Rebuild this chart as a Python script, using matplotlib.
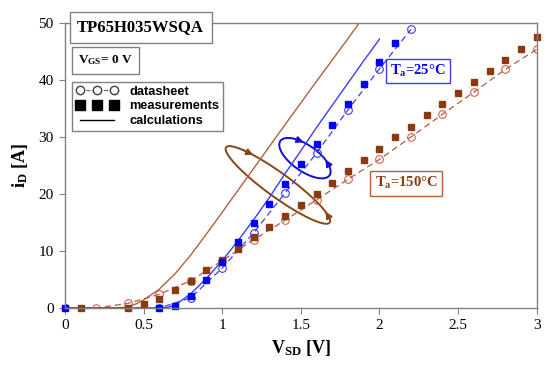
import numpy as np
import matplotlib
matplotlib.use('Agg')
import matplotlib.pyplot as plt
import matplotlib.transforms as mtransforms
from matplotlib.patches import Ellipse
from matplotlib.lines import Line2D

plt.rcParams['font.family'] = 'Liberation Serif'
plt.rcParams['mathtext.fontset'] = 'custom'
plt.rcParams['mathtext.rm'] = 'Liberation Serif'
plt.rcParams['mathtext.bf'] = 'Liberation Serif:bold'
plt.rcParams['mathtext.it'] = 'Liberation Serif:italic'

# Ta = 25 C
meas25_v = [0, 0.6, 0.7, 0.8, 0.9, 1.0, 1.1, 1.2, 1.3, 1.4, 1.5, 1.6, 1.7, 1.8, 1.9, 2.0, 2.1]
meas25_i = [0, 0, 0.3, 2.1, 5.0, 8.1, 11.6, 14.9, 18.2, 21.7, 25.3, 28.7, 32.2, 35.8, 39.3, 43.1, 46.6]
ds25_v = [0, 0.6, 0.8, 1.0, 1.2, 1.4, 1.6, 1.8, 2.0, 2.2]
ds25_i = [0, 0, 1.8, 7.0, 13.2, 20.2, 27.2, 34.8, 42.0, 48.9]
calc25_v = [0, 0.6, 0.65, 0.7, 0.8, 0.9, 1.0, 1.1, 1.2, 1.3, 1.4, 1.5, 1.6, 1.7, 1.8, 1.9, 2.0]
calc25_i = [0, 0, 0.1, 0.5, 2.5, 5.2, 8.3, 11.8, 15.5, 19.4, 23.6, 27.6, 31.7, 35.6, 39.5, 43.4, 47.2]

# Ta = 150 C
meas150_v = [0.1, 0.4, 0.5, 0.6, 0.7, 0.8, 0.9, 1.0, 1.1, 1.2, 1.3, 1.4, 1.5, 1.6, 1.7, 1.8,
             1.9, 2.0, 2.1, 2.2, 2.3, 2.4, 2.5, 2.6, 2.7, 2.8, 2.9, 3.0]
meas150_i = [0, 0, 0.7, 1.6, 3.2, 4.8, 6.7, 8.5, 10.4, 12.4, 14.2, 16.2, 18.0, 20.0, 21.9, 24.0,
             26.0, 27.9, 30.0, 31.8, 33.9, 35.8, 37.7, 39.6, 41.6, 43.5, 45.4, 47.5]
ds150_v = [0, 0.2, 0.4, 0.6, 0.8, 1.0, 1.2, 1.4, 1.6, 1.8, 2.0, 2.2, 2.4, 2.6, 2.8, 3.0]
ds150_i = [0, 0, 0.8, 2.4, 4.8, 8.3, 12.0, 15.4, 19.0, 22.6, 26.1, 30.0, 34.0, 37.9, 41.9, 45.4]
calc150_v = [0, 0.35, 0.4, 0.45, 0.5, 0.6, 0.7, 0.8, 0.9, 1.0, 1.2, 1.4, 1.6, 1.8, 1.87]
calc150_i = [0, 0, 0.2, 0.7, 1.4, 3.3, 6.0, 9.3, 13.0, 16.8, 24.5, 32.2, 39.8, 47.3, 50.0]

blue = '#0000ff'
blue_l = '#3b3bff'
brown = '#8b3a10'
brown_l = '#b0603c'
red_c = '#d06050'

fig = plt.figure(figsize=(5.5, 3.69), dpi=100)
ax = fig.add_axes([0.118, 0.1653, 0.858, 0.772])

# calculations
ax.plot(calc150_v, calc150_i, '-', color=brown_l, lw=1.0)
ax.plot(calc25_v, calc25_i, '-', color=blue_l, lw=1.0)
# datasheet
ax.plot(ds150_v, ds150_i, '--', color=brown_l, lw=0.9, dashes=(5, 3),
        marker='o', ms=5.5, mfc='none', mec=red_c, mew=0.8)
ax.plot(ds25_v, ds25_i, '--', color=blue_l, lw=0.9, dashes=(5, 3),
        marker='o', ms=5.5, mfc='none', mec=blue_l, mew=0.8)
# measurements
ax.plot(meas150_v, meas150_i, 's', color=brown, ms=4.5, clip_on=False)
ax.plot(meas25_v, meas25_i, 's', color=blue, ms=4.5, clip_on=False)

ax.set_xlim(0, 3)
ax.set_ylim(0, 50)
ax.set_xticks([0, 0.5, 1, 1.5, 2, 2.5, 3])
ax.set_xticklabels(['0', '0.5', '1', '1.5', '2', '2.5', '3'])
ax.set_yticks([0, 10, 20, 30, 40, 50])
ax.tick_params(direction='out', length=4, width=0.8, color='#808080', labelsize=11, pad=4)
for s in ax.spines.values():
    s.set_color('#808080')
    s.set_linewidth(1.0)

ax.set_xlabel(r'$\mathbf{V_{SD}}$ [V]', fontsize=13, fontweight='bold', labelpad=4)
ax.set_ylabel(r'$\mathbf{i_D}$ [A]', fontsize=13, fontweight='bold', labelpad=6)

# text boxes
ax.text(0.026, 0.986, 'TP65H035WSQA', transform=ax.transAxes, fontsize=12, fontweight='bold',
        va='center', ha='left',
        bbox=dict(boxstyle='square,pad=0.45', fc='white', ec='#808080', lw=1.0))
ax.text(0.028, 0.870, r'$\mathbf{V_{GS}}$= 0 V', transform=ax.transAxes, fontsize=9.5,
        fontweight='bold', va='center', ha='left',
        bbox=dict(boxstyle='square,pad=0.5', fc='white', ec='#808080', lw=1.0))
ax.text(2.244, 41.6, r'$\mathbf{T_a}$=25°C', fontsize=10.5, fontweight='bold', color=blue,
        va='center', ha='center',
        bbox=dict(boxstyle='square,pad=0.3', fc='white', ec=blue_l, lw=1.0))
ax.text(2.17, 21.9, r'$\mathbf{T_a}$=150°C', fontsize=10.5, fontweight='bold', color=brown,
        va='center', ha='center',
        bbox=dict(boxstyle='square,pad=0.3', fc='white', ec=brown_l, lw=1.0))

# legend
handles = [Line2D([], [], ls='--', color='#606060', lw=0.8, marker='o', mfc='white',
                  mec='#404040', ms=6),
           Line2D([], [], ls='none', color='black', marker='s', ms=7),
           Line2D([], [], ls='-', color='black', lw=1.0)]
leg = ax.legend(handles, ['datasheet', 'measurements', 'calculations'], loc='upper left',
                bbox_to_anchor=(0.015, 0.793), numpoints=3, handlelength=3.3,
                handletextpad=0.9, labelspacing=0.2, borderpad=0.3, borderaxespad=0,
                fancybox=False, framealpha=1, edgecolor='#808080',
                prop={'family': 'Liberation Sans', 'weight': 'bold', 'size': 9.2})
leg.get_frame().set_linewidth(1.0)


# ellipses with arrows (sizes in pixels, centred at data points)
def ring(cx, cy, a, b, ang, color, arrows):
    tr = fig.dpi_scale_trans + mtransforms.ScaledTranslation(cx, cy, ax.transData)
    ax.add_patch(Ellipse((0, 0), 2 * a / 100, 2 * b / 100, angle=ang, transform=tr,
                         fill=False, ec=color, lw=1.4, clip_on=False))
    th = np.radians(ang)

    def pt(t):
        x = a * np.cos(t)
        y = b * np.sin(t)
        return ((x * np.cos(th) - y * np.sin(th)) / 100, (x * np.sin(th) + y * np.cos(th)) / 100)

    for t0, t1 in arrows:
        ax.annotate('', xy=pt(np.radians(t1)), xytext=pt(np.radians(t0)), xycoords=tr,
                    textcoords=tr,
                    arrowprops=dict(arrowstyle='-|>', color=color, lw=1.2, mutation_scale=10,
                                    shrinkA=0, shrinkB=0))


ring(1.354, 21.6, 64, 12, -36, '#8b4513', [(140, 126), (16, 32)])
ring(1.526, 26.3, 30, 13, -35, '#1010d0', [(128, 110), (36, 54)])

fig.savefig('out.png', dpi=100)
